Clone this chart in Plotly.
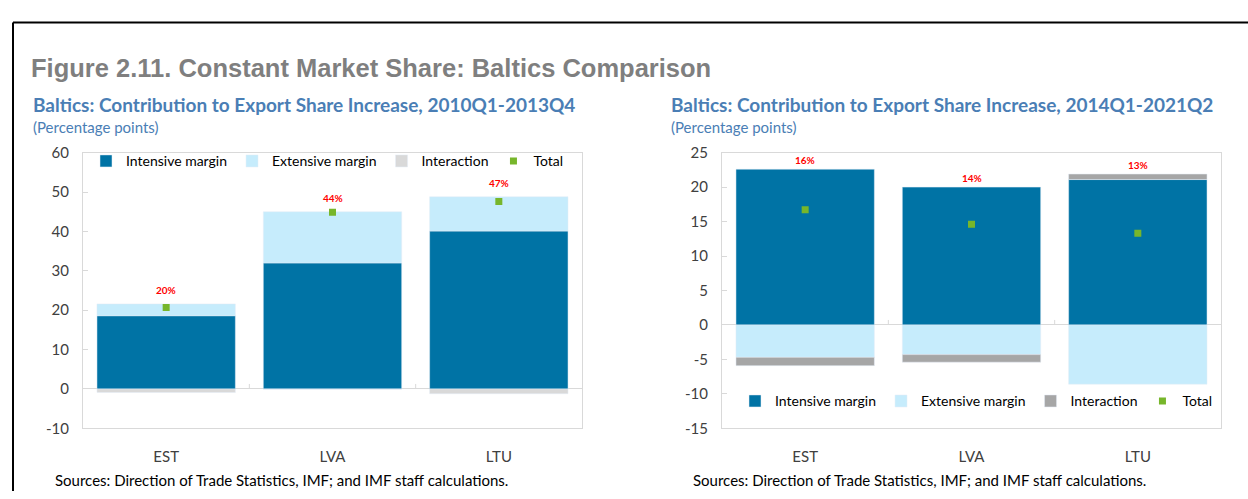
import plotly.graph_objects as go

# ---------------- data ----------------
countries = ["EST", "LVA", "LTU"]

left_intensive = [18.6, 32.0, 40.1]
left_extensive = [3.0, 13.0, 8.7]
left_interaction = [-0.9, -0.1, -1.2]
left_total = [20.7, 44.9, 47.6]
left_labels = ["20%", "44%", "47%"]

right_intensive = [22.6, 20.0, 21.1]
right_extensive = [-4.7, -4.3, -8.6]
right_interaction = [-1.2, -1.1, 0.8]
right_total = [16.7, 14.6, 13.3]
right_labels = ["16%", "14%", "13%"]

left_yticks = [-10, 0, 10, 20, 30, 40, 50, 60]
left_yticktext = ["-10", "0", "10", "20", "30", "40", "50", "60"]
right_yticks = [-15, -10, -5, 0, 5, 10, 15, 20, 25]
right_yticktext = ["-15", "-10", "-5", "0", "5", "10", "15", "20", "25"]

# ---------------- style ----------------
W, H = 1248, 499
C_INT = "#0073A5"
C_EXT = "#C6ECFC"
C_IA_L = "#D9D9D9"
C_IA_R = "#A6A6A6"
C_TOT = "#77B62B"
C_RED = "#FF0000"
C_SUB = "#4A7EB5"
FONT = "Lato"
AXC = "#D9D9D9"


def px(x):
    return x / W


def py(y):
    return 1 - y / H


fig = go.Figure()


def add_panel(xa, ya, legend, inten, ext, inter, tot, c_inter):
    fig.add_trace(go.Bar(x=countries, y=inten, name="Intensive margin",
                         marker_color=C_INT, xaxis=xa, yaxis=ya, legend=legend))
    fig.add_trace(go.Bar(x=countries, y=ext, name="Extensive margin",
                         marker_color=C_EXT, xaxis=xa, yaxis=ya, legend=legend))
    fig.add_trace(go.Bar(x=countries, y=inter, name="Interaction",
                         marker_color=c_inter, xaxis=xa, yaxis=ya, legend=legend))
    fig.add_trace(go.Scatter(x=countries, y=tot, name="Total", mode="markers",
                             marker=dict(symbol="square", size=7, color=C_TOT),
                             xaxis=xa, yaxis=ya, legend=legend))


add_panel("x", "y", "legend", left_intensive, left_extensive, left_interaction,
          left_total, C_IA_L)
add_panel("x2", "y2", "legend2", right_intensive, right_extensive, right_interaction,
          right_total, C_IA_R)

ydom = [py(434), py(148)]
xcommon = dict(showline=True, mirror=True, linecolor=AXC, linewidth=1,
               showgrid=False, ticks="", ticklabelstandoff=15,
               tickfont=dict(family=FONT, size=15, color="#404040"),
               fixedrange=True)
ycommon = dict(showline=True, mirror=True, linecolor=AXC, linewidth=1,
               showgrid=False, zeroline=True, zerolinecolor=AXC, zerolinewidth=1,
               ticks="inside", ticklen=5, tickcolor=AXC, ticklabelstandoff=10,
               tickfont=dict(family=FONT, size=15, color="#404040"),
               fixedrange=True)

fig.update_layout(
    width=W, height=H,
    margin=dict(l=0, r=0, t=0, b=0),
    paper_bgcolor="white", plot_bgcolor="white",
    barmode="relative", bargap=0.168,
    font=dict(family=FONT, color="#000000"),
    xaxis=dict(domain=[px(83), px(582)], anchor="y", **xcommon),
    yaxis=dict(domain=ydom, anchor="x", range=[-10, 60], tickvals=left_yticks,
               ticktext=left_yticktext, **ycommon),
    xaxis2=dict(domain=[px(722), px(1221)], anchor="y2", **xcommon),
    yaxis2=dict(domain=ydom, anchor="x2", range=[-15, 25], tickvals=right_yticks,
                ticktext=right_yticktext, **ycommon),
    legend=dict(orientation="h", x=px(86), xanchor="left", y=py(157),
                yanchor="middle", bgcolor="rgba(0,0,0,0)",
                font=dict(family=FONT, size=14, color="#000000"),
                itemclick=False, itemdoubleclick=False, tracegroupgap=0),
    legend2=dict(orientation="h", x=px(735), xanchor="left", y=py(406),
                 yanchor="middle", bgcolor="rgba(0,0,0,0)",
                 font=dict(family=FONT, size=14, color="#000000"),
                 itemclick=False, itemdoubleclick=False, tracegroupgap=0),
    showlegend=True,
)

annotations = []
# figure title
annotations.append(dict(text="<b>Figure 2.11. Constant Market Share: Baltics Comparison</b>",
                        x=px(29), y=py(60), xref="paper", yref="paper",
                        xanchor="left", yanchor="middle", showarrow=False,
                        font=dict(family="Liberation Sans", size=25.5, color="#7F7F7F")))
for x0, sub in [(31, "Baltics: Contribution to Export Share Increase, 2010Q1-2013Q4"),
                (669, "Baltics: Contribution to Export Share Increase, 2014Q1-2021Q2")]:
    annotations.append(dict(text="<b>" + sub + "</b>", x=px(x0), y=py(98),
                            xref="paper", yref="paper", xanchor="left", yanchor="middle",
                            showarrow=False, font=dict(family=FONT, size=19, color=C_SUB)))
    annotations.append(dict(text="(Percentage points)", x=px(x0), y=py(121),
                            xref="paper", yref="paper", xanchor="left", yanchor="middle",
                            showarrow=False, font=dict(family=FONT, size=15, color=C_SUB)))
for x0 in [53, 691]:
    annotations.append(dict(text="Sources: Direction of Trade Statistics, IMF; and IMF staff calculations.",
                            x=px(x0), y=py(488), xref="paper", yref="paper",
                            xanchor="left", yanchor="middle", showarrow=False,
                            font=dict(family=FONT, size=15, color="#000000")))

# red value labels above the positive stacks
for xr, yr, inten, ext, inter, labels, shift in [
        ("x", "y", left_intensive, left_extensive, left_interaction, left_labels, 14),
        ("x2", "y2", right_intensive, right_extensive, right_interaction, right_labels, 9)]:
    for i, c in enumerate(countries):
        top = sum(v for v in (inten[i], ext[i], inter[i]) if v > 0)
        annotations.append(dict(text="<b>" + labels[i] + "</b>", x=c, y=top,
                                xref=xr, yref=yr, yshift=shift, showarrow=False,
                                xanchor="center", yanchor="middle",
                                font=dict(family=FONT, size=10, color=C_RED)))
fig.update_layout(annotations=annotations)

shapes = [
    # black frame (top and left)
    dict(type="line", xref="paper", yref="paper", x0=px(13), x1=1, y0=py(13), y1=py(13),
         line=dict(color="black", width=2)),
    dict(type="line", xref="paper", yref="paper", x0=px(13), x1=px(13), y0=py(13), y1=0,
         line=dict(color="black", width=2)),
]
# category separator ticks on the zero line
for xr, yr in [("x", "y"), ("x2", "y2")]:
    for b in [0.5, 1.5]:
        shapes.append(dict(type="line", xref=xr, yref=yr, x0=b, x1=b,
                           ysizemode="pixel", yanchor=0, y0=0, y1=5,
                           line=dict(color=AXC, width=1)))
fig.update_layout(shapes=shapes)

fig.write_html("out.html", config={"displayModeBar": False},
               post_script="document.body.style.margin='0';document.body.style.overflow='hidden';")
